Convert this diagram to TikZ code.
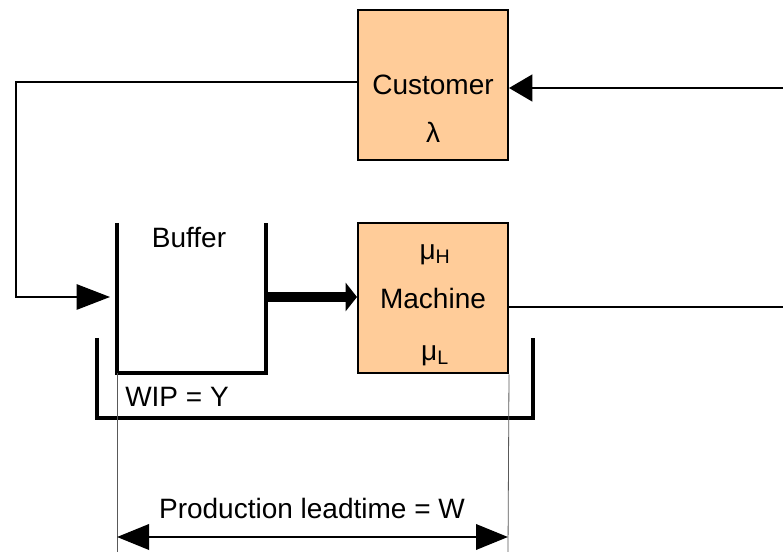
\documentclass[tikz,border=0pt]{standalone}
\usepackage{fontspec}
\setmainfont{Liberation Sans}
\usetikzlibrary{arrows.meta,positioning}
\definecolor{peach}{HTML}{FFCC99}

\begin{document}
\begin{tikzpicture}[
  x=0.75pt, y=-0.75pt,
  block/.style={draw, line width=1.5pt, fill=peach, minimum width=112.5pt, minimum height=112.5pt, inner sep=0pt},
  lbl/.style={inner sep=0pt, font=\fontsize{21}{24}\selectfont},
  flow/.style={line width=1.9pt},
  thinflow/.style={line width=1.2pt},
  wall/.style={line width=3pt},
  guide/.style={line width=0.6pt, black!65}
]
  \useasboundingbox (0,0) rectangle (783,552);

  % Blocks
  \node[block] (cust) at (433,85) {};
  \node[block] (mach) at (433,298.5) {};
  \node[lbl] (custtxt) at (433,85) {Customer};
  \node[lbl] (lambda) at (433,132) {λ};
  \node[lbl] (muH) at (435,255) {μ\textsubscript{H}};
  \node[lbl] (machtxt) at (433,298) {Machine};
  \node[lbl] (muL) at (435,356) {μ\textsubscript{L}};

  % Buffer
  \coordinate (buftl) at (117,223);
  \coordinate (bufbl) at (117,373);
  \coordinate (bufbr) at (266,373);
  \coordinate (buftr) at (266,223);
  \draw[wall] (buftl) -- (bufbl) -- (bufbr) -- (buftr);
  \node[lbl] (buftxt) at (189,238) {Buffer};

  % Demand into customer
  \coordinate (demand) at (783,88);
  \draw[flow, -{Triangle[length=17.5pt,width=20pt]}] (demand) -- (demand -| cust.east);

  % Orders back to buffer
  \coordinate (lp) at (16,82);
  \coordinate (bufin) at (110,297);
  \draw[thinflow, -{Triangle[length=25pt,width=19pt]}] (lp -| cust.west) -- (lp) |- (bufin);

  % Buffer to machine
  \coordinate (bufout) at (266,297);
  \draw[line width=7.5pt, -{Triangle[length=8.5pt,width=21pt]}] (bufout) -- (bufout -| mach.west);

  % Machine output
  \coordinate (out) at (783,307);
  \draw[flow] (out -| mach.east) -- (out);

  % WIP bracket
  \coordinate (wiptl) at (97,338);
  \coordinate (wipbl) at (97,418);
  \coordinate (wipbr) at (533,418);
  \coordinate (wiptr) at (533,338);
  \draw[wall] (wiptl) -- (wipbl) -- (wipbr) -- (wiptr);
  \node[lbl, anchor=west] (wiptxt) at (125,397) {WIP = Y};

  % Leadtime
  \coordinate (ll) at (117,537);
  \coordinate (lr) at (508,537);
  \draw[guide] (bufbl) -- (117,552);
  \draw[guide] (mach.south east) -- (508,552);
  \draw[flow, {Triangle[length=24pt,width=19pt]}-{Triangle[length=24pt,width=19pt]}] (ll) -- (lr);
  \node[lbl] (leadtxt) at (312,508) {Production leadtime = W};
\end{tikzpicture}
\end{document}
